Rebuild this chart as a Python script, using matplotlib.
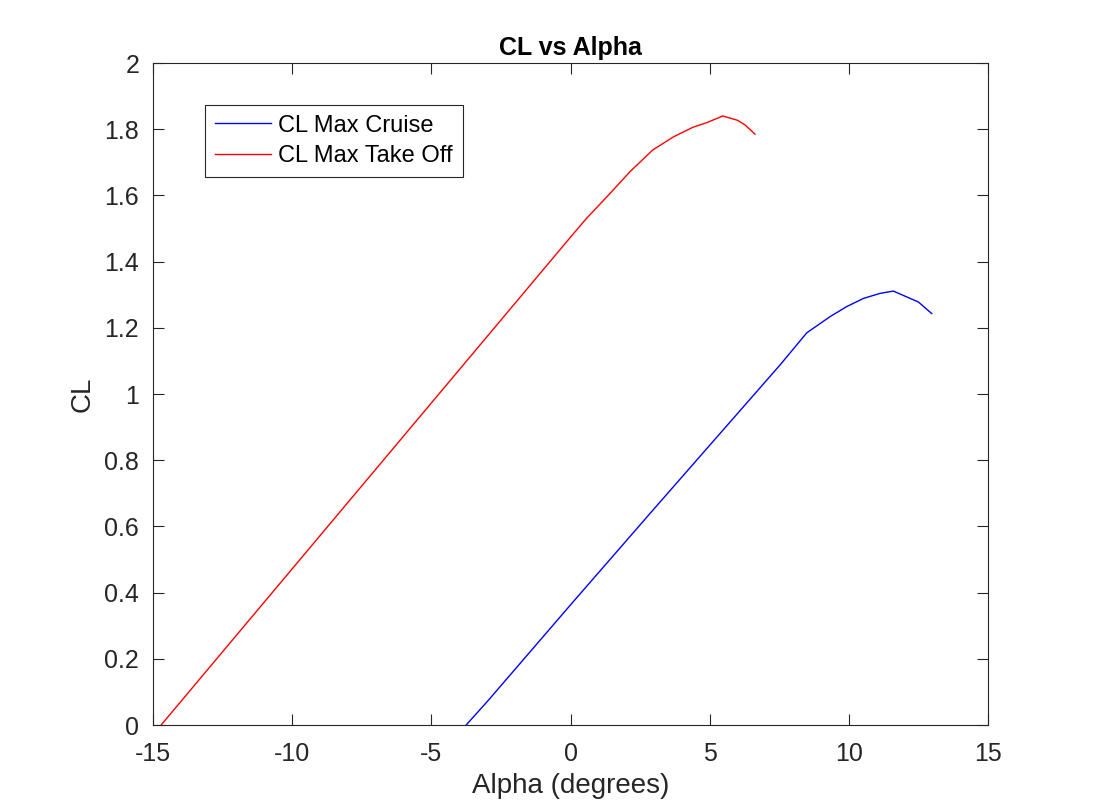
import matplotlib
matplotlib.use("Agg")
import matplotlib.pyplot as plt

plt.rcParams['font.family'] = ['Liberation Sans', 'DejaVu Sans']

# Data
alpha_cruise = [-3.75, -2.95, 0.0, 3.0, 7.53, 8.49, 9.33, 9.92, 10.53, 11.12, 11.60, 12.50, 12.98]
cl_cruise    = [0.0,   0.075, 0.363, 0.653, 1.088, 1.185, 1.234, 1.264, 1.289, 1.304, 1.311, 1.278, 1.243]

alpha_takeoff = [-14.71, 0.0, 0.58, 1.42, 2.14, 2.95, 3.7, 4.4, 4.9, 5.47, 6.0, 6.27, 6.63]
cl_takeoff    = [0.0,   1.474, 1.531, 1.606, 1.672, 1.737, 1.777, 1.806, 1.82, 1.840, 1.827, 1.813, 1.785]

xticks = [-15, -10, -5, 0, 5, 10, 15]
yticks = [0, 0.2, 0.4, 0.6, 0.8, 1, 1.2, 1.4, 1.6, 1.8, 2]
ytick_labels = ['0', '0.2', '0.4', '0.6', '0.8', '1', '1.2', '1.4', '1.6', '1.8', '2']

axc = '#262626'
fig = plt.figure(figsize=(10.94, 8.09), dpi=100)
ax = fig.add_axes([0.1399, 0.1038, 0.9031 - 0.1399, 0.9221 - 0.1038])

ax.plot(alpha_cruise, cl_cruise, color='blue', lw=1.0, label='CL Max Cruise')
ax.plot(alpha_takeoff, cl_takeoff, color='red', lw=1.0, label='CL Max Take Off')

ax.set_xlim(-15, 15)
ax.set_ylim(0, 2)
ax.set_xticks(xticks)
ax.set_xticklabels([str(t) for t in xticks])
ax.set_yticks(yticks)
ax.set_yticklabels(ytick_labels)
ax.tick_params(direction='in', top=True, right=True, length=8, width=0.8,
               colors=axc, labelsize=18)
ax.tick_params(axis='y', pad=10)
ax.tick_params(axis='x', pad=12)
for s in ax.spines.values():
    s.set_color(axc)
    s.set_linewidth(0.8)

ax.set_xlabel('Alpha (degrees)', fontsize=20, color=axc, labelpad=5)
ax.set_ylabel('CL', fontsize=20, color=axc, labelpad=6)
ax.set_title('CL vs Alpha', fontsize=18, fontweight='bold', color='black', pad=6)

leg = ax.legend(loc='upper left', bbox_to_anchor=(0.062, 0.937), borderaxespad=0,
                fontsize=17, fancybox=False, framealpha=1, edgecolor=axc,
                handlelength=2.4, handletextpad=0.3, borderpad=0.42, labelspacing=0.36)
leg.get_frame().set_linewidth(0.8)

fig.savefig('out.png', dpi=100, facecolor='white')
